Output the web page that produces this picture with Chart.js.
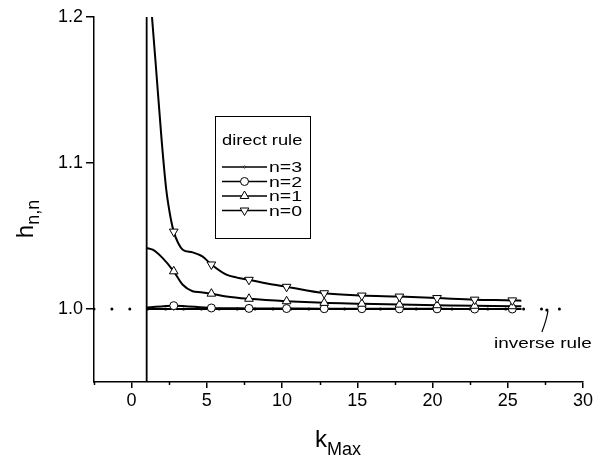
<!DOCTYPE html>
<html>
<head>
<meta charset="utf-8">
<script src="https://cdn.jsdelivr.net/npm/chart.js@4.4.1/dist/chart.umd.min.js"></script>
<style>
    html, body { margin: 0; padding: 0; background: #fff; }
</style>
</head>
<body>
<canvas id="myChart" width="603" height="460"></canvas>
<script>
// tick values
const X_TICKS = [0, 5, 10, 15, 20, 25, 30];
const X_MINOR = [-2.5, 2.5, 7.5, 12.5, 17.5, 22.5, 27.5];
const Y_TICKS = [1.0, 1.1, 1.2];

// k positions where symbols are shown
const K_MARKS = [2.8, 5.3, 7.8, 10.3, 12.8, 15.3, 17.8, 20.3, 22.8, 25.3];

// direct rule, n=0
const K_N0 = [1.0, 1.6, 2.0, 2.3, 2.6, 2.8, 3.1, 3.4, 4.05, 4.7, 5.3, 6.3, 7.0, 7.8, 9.0, 10.3, 12.8, 15.3, 17.8, 20.3, 22.8, 25.3, 25.9];
const H_N0 = [1.246, 1.168, 1.115, 1.082, 1.062, 1.053, 1.045, 1.0406, 1.0388, 1.036, 1.0305, 1.0235, 1.0215, 1.020, 1.0175, 1.0152, 1.0108, 1.0092, 1.0085, 1.0075, 1.0064, 1.0059, 1.0057];

// direct rule, n=1
const K_N1 = [1.0, 1.4, 2.05, 2.8, 3.4, 4.05, 4.6, 5.3, 6.3, 7.8, 10.3, 12.8, 15.3, 17.8, 20.3, 22.8, 25.3, 25.9];
const H_N1 = [1.0418, 1.0406, 1.035, 1.0258, 1.0166, 1.0122, 1.0115, 1.0105, 1.0086, 1.0070, 1.0053, 1.0042, 1.0036, 1.0030, 1.0026, 1.0022, 1.0019, 1.0018];

// direct rule, n=2
const K_N2 = [1.0, 2.8, 5.3, 7.8, 10.3, 12.8, 15.3, 17.8, 20.3, 22.8, 25.3, 25.9];
const H_N2 = [1.001, 1.0023, 1.0007, 1.0004, 1.0003, 1.0002, 1.0002, 1.0001, 1.0001, 1.0, 1.0, 1.0];

// direct rule, n=3 (pole at k=1)
const K_N3 = [1, 1, 1, 2.8, 5.3, 7.8, 10.3, 12.8, 15.3, 17.8, 20.3, 22.8, 25.3, 25.9];
const H_N3 = [0.9, 1.3, 1.0, 1.0, 1.0, 1.0, 1.0, 1.0, 1.0, 1.0, 1.0, 1.0, 1.0, 1.0];

// inverse rule
const K_INV = [-2.5, 28.5];
const H_INV = [1.0, 1.0];

const FONT = "'Liberation Sans', Arial, sans-serif";

let pts = (xs, ys) => xs.map((x, i) => ({ x: x, y: ys[i] }));
let markAt = (r) => (c) => (c.raw && K_MARKS.includes(c.raw.x)) ? r : 0;

function drawMarker(ctx, style, x, y) {
    if (style.radius <= 0) return;
    ctx.save();
    ctx.fillStyle = '#fff';
    ctx.strokeStyle = '#000';
    ctx.lineWidth = style.borderWidth;
    Chart.helpers.drawPoint(ctx, style, x, y);
    ctx.restore();
}

// the scanned figure's lettering is wider than the font, so squash it sideways
function wideText(ctx, text, x, y, sx) {
    ctx.save();
    ctx.translate(x, y);
    ctx.scale(sx, 1);
    ctx.fillText(text, 0, 0);
    ctx.restore();
}

const extras = {
    id: 'extras',
    afterDraw(chart) {
        const ctx = chart.ctx;
        const xs = chart.scales.x, ys = chart.scales.y;
        const area = chart.chartArea;
        ctx.save();

        // minor ticks on the k axis
        ctx.strokeStyle = '#000';
        ctx.lineWidth = 1.5;
        X_MINOR.forEach(v => {
            let px = Math.round(xs.getPixelForValue(v)) + 0.5;
            ctx.beginPath();
            ctx.moveTo(px, area.bottom);
            ctx.lineTo(px, area.bottom + 3);
            ctx.stroke();
        });

        // legend box
        ctx.fillStyle = '#fff';
        ctx.fillRect(215, 116, 95, 122);
        ctx.lineWidth = 1;
        ctx.strokeRect(215.5, 116.5, 95, 122);
        ctx.fillStyle = '#000';
        ctx.font = '15px ' + FONT;
        ctx.textBaseline = 'middle';
        wideText(ctx, 'direct rule', 222, 141, 1.22);
        const items = chart.data.datasets.filter(d => d.label.startsWith('n='));
        items.slice().reverse().forEach((d, i) => {
            let y = 167 + i * 14.5;
            ctx.strokeStyle = '#000';
            ctx.lineWidth = 1.5;
            ctx.beginPath();
            ctx.moveTo(222, y);
            ctx.lineTo(267, y);
            ctx.stroke();
            drawMarker(ctx, { pointStyle: d.pointStyle, radius: d.legendRadius, borderWidth: 1, rotation: d.rotation || 0 }, 244.5, y);
            ctx.fillStyle = '#000';
            wideText(ctx, d.label, 269, y + 1, 1.3);
        });

        // inverse rule pointer + label
        let px = xs.getPixelForValue(27.6), py = ys.getPixelForValue(1.0);
        ctx.strokeStyle = '#000';
        ctx.lineWidth = 1.2;
        ctx.beginPath();
        ctx.arc(px, py + 1, 1.6, 0, Math.PI * 2);
        ctx.fill();
        ctx.beginPath();
        ctx.moveTo(px + 1, py + 2);
        ctx.quadraticCurveTo(px, py + 10, px - 5, py + 23);
        ctx.stroke();
        ctx.font = '15px ' + FONT;
        ctx.textAlign = 'left';
        wideText(ctx, 'inverse rule', 494, 344, 1.26);

        // axis titles with subscripts
        ctx.textAlign = 'left';
        ctx.textBaseline = 'alphabetic';
        ctx.font = '24px ' + FONT;
        let kw = ctx.measureText('k').width;
        ctx.font = '18px ' + FONT;
        let mw = ctx.measureText('Max').width;
        let x0 = 338 - (kw + mw) / 2;
        ctx.font = '24px ' + FONT;
        ctx.fillText('k', x0, 447);
        ctx.font = '18px ' + FONT;
        ctx.fillText('Max', x0 + kw, 455);

        ctx.translate(33, 219);
        ctx.rotate(-Math.PI / 2);
        ctx.font = '24px ' + FONT;
        let hw = ctx.measureText('h').width;
        ctx.font = '18px ' + FONT;
        let nw = ctx.measureText('n,n').width;
        let s0 = -(hw + nw) / 2;
        ctx.font = '24px ' + FONT;
        ctx.fillText('h', s0, 0);
        ctx.font = '18px ' + FONT;
        ctx.fillText('n,n', s0 + hw, 6);

        ctx.restore();
    }
};

let ctx = document.getElementById('myChart').getContext('2d');
let chart = new Chart(ctx, {
    type: 'line',
    data: {
        datasets: [
            {
                label: 'n=0',
                data: pts(K_N0, H_N0),
                borderColor: '#000',
                borderWidth: 2,
                cubicInterpolationMode: 'monotone',
                pointStyle: 'triangle',
                rotation: 180,
                legendRadius: 5,
                pointRadius: markAt(5),
                pointBackgroundColor: '#fff',
                pointBorderColor: '#000',
                pointBorderWidth: 1
            },
            {
                label: 'n=1',
                data: pts(K_N1, H_N1),
                borderColor: '#000',
                borderWidth: 2,
                cubicInterpolationMode: 'monotone',
                pointStyle: 'triangle',
                legendRadius: 5,
                pointRadius: markAt(5),
                pointBackgroundColor: '#fff',
                pointBorderColor: '#000',
                pointBorderWidth: 1
            },
            {
                label: 'n=2',
                data: pts(K_N2, H_N2),
                borderColor: '#000',
                borderWidth: 2,
                cubicInterpolationMode: 'monotone',
                pointStyle: 'circle',
                legendRadius: 4,
                pointRadius: markAt(4),
                pointBackgroundColor: '#fff',
                pointBorderColor: '#000',
                pointBorderWidth: 1
            },
            {
                label: 'n=3',
                data: pts(K_N3, H_N3),
                borderColor: '#000',
                borderWidth: 1.8,
                tension: 0,
                pointStyle: 'circle',
                legendRadius: 1,
                pointRadius: markAt(1),
                pointBackgroundColor: '#000',
                pointBorderColor: '#000',
                pointBorderWidth: 1
            },
            {
                label: 'inverse rule',
                data: pts(K_INV, H_INV),
                borderColor: '#000',
                borderWidth: 3,
                borderDash: [0, 17.9],
                borderCapStyle: 'round',
                pointRadius: 0
            }
        ]
    },
    options: {
        responsive: false,
        animation: false,
        layout: { padding: { top: 17, right: 20, left: 0, bottom: 0 } },
        plugins: {
            legend: { display: false },
            tooltip: { enabled: false }
        },
        scales: {
            x: {
                type: 'linear',
                min: -2.5,
                max: 30,
                border: { color: '#000', width: 1.5 },
                grid: { drawOnChartArea: false, color: '#000', lineWidth: 1.5, tickLength: 6 },
                ticks: { color: '#000', font: { family: FONT, size: 18 }, padding: 2 },
                afterBuildTicks: s => { s.ticks = X_TICKS.map(v => ({ value: v })); },
                afterFit: s => { s.height = 78; }
            },
            y: {
                type: 'linear',
                min: 0.95,
                max: 1.2,
                border: { color: '#000', width: 1.5 },
                grid: { drawOnChartArea: false, color: '#000', lineWidth: 1.5, tickLength: 8 },
                ticks: { color: '#000', font: { family: FONT, size: 18 }, padding: 3,
                         callback: v => v.toFixed(1) },
                afterBuildTicks: s => { s.ticks = Y_TICKS.map(v => ({ value: v })); },
                afterFit: s => { s.width = 94; }
            }
        }
    },
    plugins: [extras]
});
</script>
</body>
</html>
